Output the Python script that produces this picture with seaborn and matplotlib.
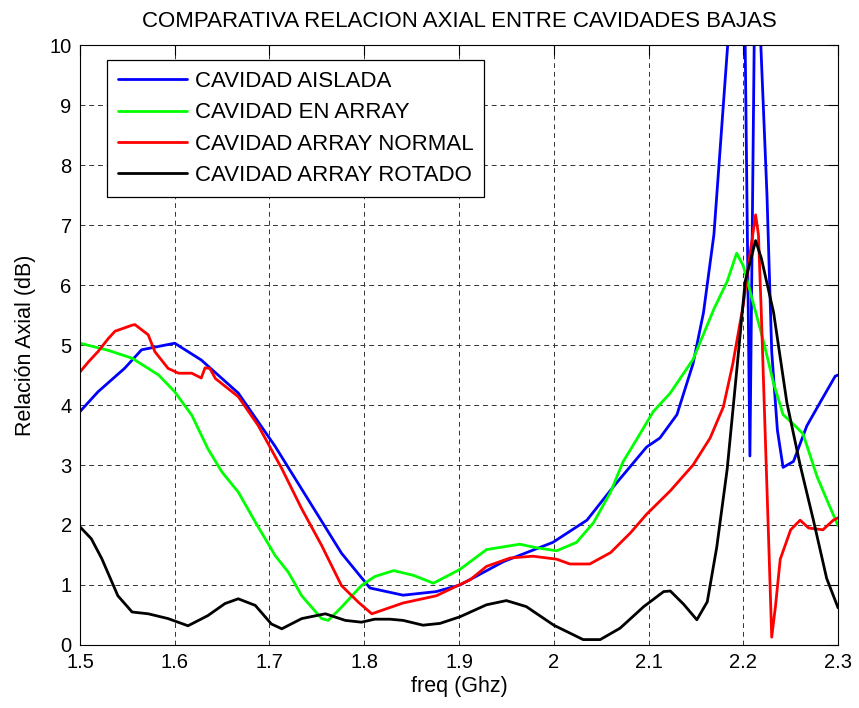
import numpy as np
import pandas as pd
import seaborn as sns
import matplotlib
matplotlib.use("Agg")
import matplotlib.pyplot as plt

# values
freq_aislada = [1.500, 1.519, 1.547, 1.565, 1.600, 1.628, 1.667, 1.706, 1.741, 1.776, 1.806,
                1.841, 1.876, 1.901, 1.947, 1.999, 2.035, 2.063, 2.098, 2.112, 2.130, 2.147,
                2.158, 2.169, 2.175, 2.181, 2.184, 2.189, 2.193, 2.198, 2.202, 2.207, 2.2115,
                2.215, 2.2185, 2.225, 2.230, 2.236, 2.242, 2.253, 2.267, 2.281, 2.297, 2.300]
ra_aislada = [3.89, 4.22, 4.61, 4.92, 5.03, 4.75, 4.20, 3.31, 2.42, 1.53, 0.95,
              0.83, 0.89, 1.00, 1.39, 1.71, 2.08, 2.64, 3.30, 3.45, 3.84, 4.69,
              5.54, 6.84, 8.14, 9.45, 10.1, 12.5, 14.0, 12.5, 10.0, 3.15, 10.0,
              12.0, 10.0, 7.50, 4.89, 3.58, 2.96, 3.06, 3.65, 4.04, 4.48, 4.50]

freq_array = [1.500, 1.530, 1.555, 1.583, 1.600, 1.618, 1.635, 1.650, 1.667, 1.685, 1.706,
              1.720, 1.734, 1.755, 1.762, 1.776, 1.797, 1.811, 1.831, 1.852, 1.873, 1.901,
              1.929, 1.964, 1.982, 2.003, 2.024, 2.042, 2.060, 2.073, 2.088, 2.105, 2.123,
              2.147, 2.169, 2.183, 2.193, 2.200, 2.211, 2.221, 2.232, 2.242, 2.253, 2.263,
              2.278, 2.292, 2.300]
ra_array = [5.03, 4.91, 4.78, 4.50, 4.22, 3.83, 3.27, 2.88, 2.55, 2.05, 1.49,
            1.21, 0.82, 0.44, 0.41, 0.63, 0.99, 1.14, 1.24, 1.16, 1.03, 1.26,
            1.59, 1.68, 1.62, 1.57, 1.71, 2.04, 2.55, 3.05, 3.44, 3.89, 4.20,
            4.76, 5.60, 6.06, 6.53, 6.32, 5.67, 5.08, 4.36, 3.84, 3.68, 3.52,
            2.80, 2.28, 1.99]

freq_normal = [1.500, 1.509, 1.519, 1.530, 1.537, 1.555, 1.558, 1.572, 1.579, 1.593, 1.604,
               1.618, 1.628, 1.632, 1.637, 1.643, 1.667, 1.688, 1.713, 1.734, 1.755, 1.776,
               1.794, 1.808, 1.841, 1.876, 1.912, 1.929, 1.954, 1.978, 2.003, 2.017, 2.038,
               2.060, 2.081, 2.098, 2.123, 2.147, 2.165, 2.179, 2.189, 2.200, 2.207, 2.213,
               2.216, 2.219, 2.223, 2.227, 2.230, 2.234, 2.239, 2.250, 2.260, 2.269, 2.284,
               2.295, 2.300]
ra_normal = [4.55, 4.72, 4.89, 5.11, 5.23, 5.33, 5.34, 5.17, 4.89, 4.61, 4.53,
             4.53, 4.45, 4.62, 4.61, 4.44, 4.14, 3.66, 2.94, 2.27, 1.66, 0.99,
             0.71, 0.52, 0.70, 0.82, 1.09, 1.31, 1.45, 1.48, 1.43, 1.35, 1.35,
             1.54, 1.87, 2.18, 2.57, 3.00, 3.45, 3.97, 4.69, 5.67, 6.51, 7.17,
             6.84, 5.54, 3.58, 1.63, 0.13, 0.65, 1.43, 1.92, 2.08, 1.95, 1.92,
             2.08, 2.12]

freq_rotado = [1.500, 1.512, 1.523, 1.540, 1.555, 1.572, 1.593, 1.614, 1.635, 1.653, 1.667,
               1.685, 1.702, 1.713, 1.734, 1.759, 1.780, 1.797, 1.811, 1.827, 1.841, 1.862,
               1.880, 1.901, 1.929, 1.950, 1.971, 2.000, 2.031, 2.049, 2.070, 2.095, 2.116,
               2.123, 2.137, 2.151, 2.162, 2.172, 2.183, 2.193, 2.202, 2.213, 2.219, 2.232,
               2.246, 2.260, 2.274, 2.288, 2.300]
ra_rotado = [1.97, 1.77, 1.44, 0.82, 0.55, 0.52, 0.44, 0.32, 0.49, 0.69, 0.77,
             0.66, 0.35, 0.27, 0.44, 0.52, 0.41, 0.38, 0.43, 0.43, 0.41, 0.33,
             0.36, 0.47, 0.67, 0.74, 0.64, 0.33, 0.09, 0.09, 0.28, 0.64, 0.89,
             0.90, 0.68, 0.42, 0.72, 1.63, 2.93, 4.56, 6.06, 6.74, 6.45, 5.54,
             4.04, 3.00, 2.08, 1.11, 0.62]

series = ["CAVIDAD AISLADA", "CAVIDAD EN ARRAY", "CAVIDAD ARRAY NORMAL", "CAVIDAD ARRAY ROTADO"]
colors = ["#0000ff", "#00ff00", "#ff0000", "#000000"]
xticks = [1.5, 1.6, 1.7, 1.8, 1.9, 2.0, 2.1, 2.2, 2.3]
xticklabels = ["1.5", "1.6", "1.7", "1.8", "1.9", "2", "2.1", "2.2", "2.3"]

frames = []
for name, f, r in zip(series,
                      [freq_aislada, freq_array, freq_normal, freq_rotado],
                      [ra_aislada, ra_array, ra_normal, ra_rotado]):
    frames.append(pd.DataFrame({"freq": f, "ra": r, "serie": name}))
df = pd.concat(frames, ignore_index=True)

sns.set_style("white")
plt.rcParams['font.family'] = ['Liberation Sans', 'DejaVu Sans']
plt.rcParams['text.color'] = 'k'

fig = plt.figure(figsize=(8.59, 7.08), dpi=100)
ax = fig.add_axes([0.0931, 0.089, 0.8825, 0.8474])

sns.lineplot(data=df, x="freq", y="ra", hue="serie", hue_order=series,
             palette=colors, estimator=None, sort=False, linewidth=2.0, ax=ax)

ax.set_xlim(1.5, 2.3)
ax.set_ylim(0, 10)
ax.set_xticks(xticks)
ax.set_xticklabels(xticklabels)
ax.set_yticks(range(0, 11))
ax.tick_params(direction="in", length=7, width=0.8, top=True, right=True,
               labelsize=14.5, colors="k", pad=6)
ax.grid(True, color="0.2", linestyle=(0, (5, 4)), linewidth=0.7)
for s in ax.spines.values():
    s.set_color("k")
    s.set_linewidth(0.8)

ax.set_title("COMPARATIVA RELACION AXIAL ENTRE CAVIDADES BAJAS", fontsize=16, pad=13, color="k")
ax.set_xlabel("freq (Ghz)", fontsize=15.5, labelpad=3, color="k")
ax.set_ylabel("Relación Axial (dB)", fontsize=15.5, labelpad=10, color="k")

leg = ax.legend(loc="upper left", bbox_to_anchor=(0.0356, 0.975), borderaxespad=0,
                fontsize=16, handlelength=3.1, labelspacing=0.46, handletextpad=0.35,
                fancybox=False, framealpha=1, borderpad=0.5)
leg.get_frame().set_edgecolor("k")
leg.get_frame().set_linewidth(0.9)
for t in leg.get_texts():
    t.set_color("k")

fig.savefig("out.png", dpi=100, facecolor="white")
